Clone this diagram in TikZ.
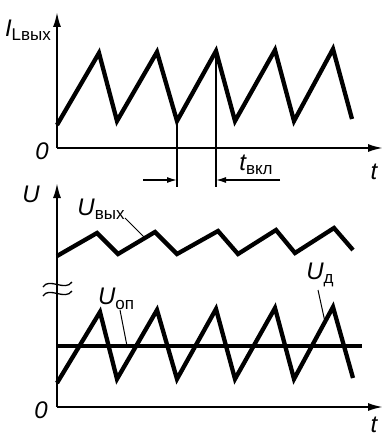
\documentclass[tikz,border=0pt]{standalone}
\usepackage{fontspec}
\setmainfont{Liberation Sans}
\usetikzlibrary{arrows.meta}

% italic quantity with upright subscript
\newcommand{\qty}[2]{{\itshape #1}\raisebox{-0.35ex}{\fontsize{17}{17}\selectfont #2}}

\begin{document}
\begin{tikzpicture}[x=1pt, y=-1pt,
    every node/.style={inner sep=0pt, font=\fontsize{24}{24}\selectfont},
    axis/.style={line width=2pt, -{Latex[length=15pt, width=8pt]}},
    wave/.style={line width=4.3pt, line join=miter, line cap=butt},
    lead/.style={line width=1pt},
    dim/.style={line width=1.3pt, -{Latex[length=10pt, width=6pt]}},
]
\useasboundingbox (0,0) rectangle (383,438);

% ---------- upper graph: inductor current ----------
\coordinate (o1) at (57,148);
\draw[axis] (o1) -- (57,12);
\draw[axis] (o1) -- (383,148);
\node (il) at (28,30) {\qty{I}{Lвых}};
\node (zero1) at (42,151) {\itshape 0};
\node (t1) at (374,172) {\itshape t};

\draw[wave] (57,125) -- (99,53) -- (117,121) -- (157,52) -- (177,121)
    -- (216,51) -- (235,121) -- (275,50) -- (294,121) -- (333,49) -- (352,119);

% switch-on interval
\coordinate (tra) at (177,121);
\coordinate (pkb) at (216,51);
\draw[line width=1.3pt] (tra) -- (177,187);
\draw[line width=1.3pt] (pkb) -- (216,187);
\draw[dim] (143,180) -- (177,180);
\draw[dim] (280,180) -- (216,180);
\node (ton) at (256,165) {\qty{t}{вкл}};

% ---------- lower graph: voltages ----------
\coordinate (o2) at (57,407);
\draw[axis] (o2) -- (57,183);
\draw[axis] (o2) -- (383,407);
\node (u) at (31,194) {\itshape U};
\node (zero2) at (41,410) {\itshape 0};
\node (t2) at (374,425) {\itshape t};

% axis break
\draw[line width=1.3pt] (43,287) .. controls (49,277) and (65,292) .. (72,282);
\draw[line width=1.3pt] (43,296) .. controls (49,286) and (65,301) .. (72,291);

% output voltage
\draw[wave] (57,256) -- (97,233) -- (118,254) -- (155,232) -- (177,254)
    -- (218,231) -- (238,254) -- (276,230) -- (295,253) -- (334,228) -- (353,250);
\node (uout) at (101,209) {\qty{U}{вых}};
\coordinate (uoutp) at (145,238);
\draw[lead] (125,218) -- (uoutp);

% reference level and sawtooth
\draw[wave] (57,346) -- (362,346);
\draw[wave] (57,383) -- (100,312) -- (117,379) -- (157,310) -- (177,379)
    -- (216,309) -- (235,379) -- (275,308) -- (294,379) -- (333,307) -- (353,378);
\node (uref) at (116,299) {\qty{U}{оп}};
\coordinate (urefp) at (127,346);
\draw[lead] (120,310) -- (urefp);
\node (ud) at (320,275) {\qty{U}{д}};
\coordinate (udp) at (325,322);
\draw[lead] (318,290) -- (udp);

\end{tikzpicture}
\end{document}
